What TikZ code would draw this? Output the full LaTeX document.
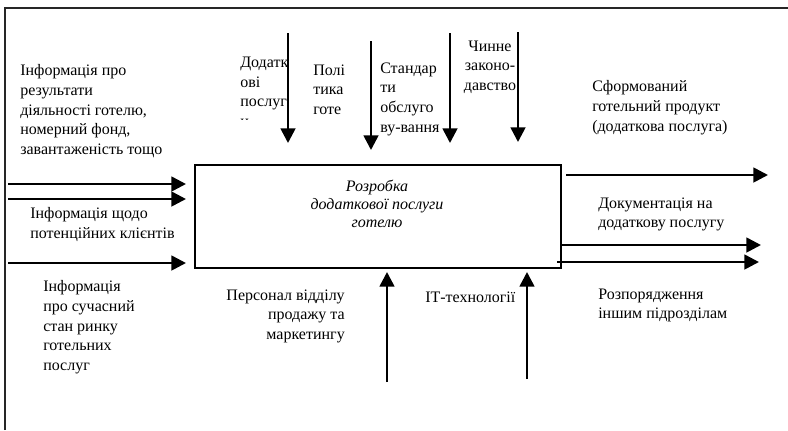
\documentclass[tikz,border=0pt]{standalone}
\usepackage{fontspec}
\setmainfont{Liberation Serif}
\usetikzlibrary{arrows.meta}
\begin{document}
\begin{tikzpicture}[x=0.75pt,y=-0.75pt,
  arr/.style={line width=2pt,-{Triangle[length=11pt,width=11pt]}},
  frame/.style={line width=1.2pt,black!85},
  boxst/.style={draw,line width=2.2pt,minimum width=274.5pt,minimum height=77.25pt,inner sep=0pt},
  lbl/.style={font=\fontsize{12}{14.7}\selectfont,inner sep=0pt,align=left,anchor=north west},
  lblr/.style={lbl,align=right,anchor=north east},
  lblc/.style={lbl,align=center,anchor=north}]
\useasboundingbox (0,0) rectangle (788,430);
% frame
\draw[frame] (5,430) -- (5,8) -- (788,8);
% main box
\node[boxst] (box) at (378,216.5) {};
\node[lblc,font=\fontsize{12}{13.5}\selectfont\itshape] (boxtext) at (377,179.5)
  {Розробка\\додаткової послуги\\готелю};
% input labels
\node[lbl] (in1) at (20,64.5) {Інформація про\\результати\\діяльності готелю,\\номерний фонд,\\завантаженість тощо};
\node[lbl] (in2) at (30,207.5) {Інформація щодо\\потенційних клієнтів};
\node[lbl] (in3) at (43,280.5) {Інформація\\про сучасний\\стан ринку\\готельних\\послуг};
% control labels
\begin{scope}
\clip (230,30) rectangle (300,119.5);
\node[lbl] (ct1) at (240,57) {Додатк\\ові\\послуг\\и};
\end{scope}
\node[lbl] (ct2) at (313,64.5) {Полі\\тика\\готе};
\node[lbl] (ct3) at (380,62.5) {Стандар\\ти\\обслуго\\ву-вання};
\node[lblc] (ct4) at (490,40.5) {Чинне\\законо-\\давство};
% output labels
\node[lbl] (out1) at (592,80.5) {Сформований\\готельний продукт\\(додаткова послуга)};
\node[lbl] (out2) at (598,197.5) {Документація на\\додаткову послугу};
\node[lbl] (out3) at (598,288.5) {Розпорядження\\іншим підрозділам};
% mechanism labels
\node[lblr] (me1) at (345,289.5) {Персонал відділу\\продажу та\\маркетингу};
\node[lbl] (me2) at (425,291.5) {ІТ-технології};
% coordinates
\coordinate (i1s) at (8,184);  \coordinate (i1e) at (186,184);
\coordinate (i2s) at (8,199);  \coordinate (i2e) at (186,199);
\coordinate (i3s) at (8,263);  \coordinate (i3e) at (186,263);
\coordinate (c1s) at (288,33); \coordinate (c1e) at (288,143);
\coordinate (c2s) at (371,41); \coordinate (c2e) at (371,150);
\coordinate (c3s) at (450,33); \coordinate (c3e) at (450,143);
\coordinate (c4s) at (518,32); \coordinate (c4e) at (518,142);
\coordinate (o1s) at (566,175); \coordinate (o1e) at (768,175);
\coordinate (o2s) at (561,245); \coordinate (o2e) at (761,245);
\coordinate (o3s) at (557,262); \coordinate (o3e) at (759,262);
\coordinate (m1s) at (387,382); \coordinate (m1e) at (387,272);
\coordinate (m2s) at (527,379); \coordinate (m2e) at (527,272);
% arrows
\foreach \a in {i1,i2,i3,c1,c2,c3,c4,o1,o2,o3,m1,m2}
  \draw[arr] (\a s) -- (\a e);
\end{tikzpicture}
\end{document}
